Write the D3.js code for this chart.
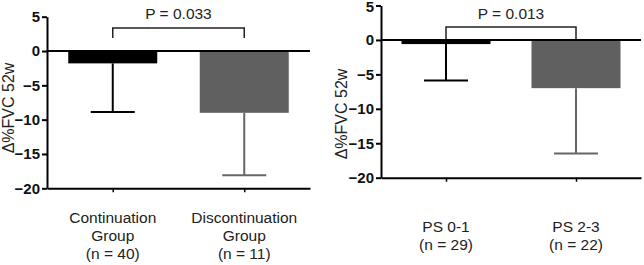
<!DOCTYPE html>
<html>
<head>
<meta charset="utf-8">
<script src="https://cdn.jsdelivr.net/npm/d3@7"></script>
<style>
  body { margin: 0; background: #fff; }
  svg { display: block; font-family: Arial, "Liberation Sans", Helvetica, sans-serif; }
  .tick text { font-weight: bold; font-size: 15px; fill: #111; }
</style>
</head>
<body>
<div id="chart"></div>
<script>
// values
const yTicks = [5, 0, -5, -10, -15, -20];
const yLabel = "\u0394%FVC 52w";

const groupCats = ["Continuation Group", "Discontinuation Group"];
const groupLabels = [["Continuation", "Group", "(n = 40)"], ["Discontinuation", "Group", "(n = 11)"]];
const groupMeans = [-1.8, -9.0];
const groupSD = [7.1, 9.1];
const groupP = "P = 0.033";

const psCats = ["PS 0-1", "PS 2-3"];
const psLabels = [["PS 0-1", "(n = 29)"], ["PS 2-3", "(n = 22)"]];
const psMeans = [-0.6, -7.0];
const psSD = [5.3, 9.5];
const psP = "P = 0.013";

const barColors = ["#000000", "#606060"];
const errColors = ["#000000", "#666666"];

const svg = d3.select("#chart").append("svg")
  .attr("width", 644)
  .attr("height", 265);

// draws one panel of the figure
function drawPanel(opts) {
  const g = svg.append("g");

  const x = d3.scalePoint()
    .domain(opts.cats)
    .range([opts.left, opts.right])
    .padding(0.5);

  const y = d3.scaleLinear()
    .domain([-20, 5])
    .range([opts.bottom, opts.top]);

  const barW = 89, capW = 44;

  // bars
  g.selectAll("rect.bar")
    .data(opts.means)
    .enter()
    .append("rect")
    .attr("class", "bar")
    .attr("x", (d, i) => x(opts.cats[i]) - barW / 2)
    .attr("width", barW)
    .attr("y", y(0))
    .attr("height", d => y(d) - y(0))
    .attr("fill", (d, i) => barColors[i]);

  // error bars (lower only)
  opts.means.forEach((m, i) => {
    const cx = x(opts.cats[i]);
    const lo = m - opts.sd[i];
    g.append("line")
      .attr("x1", cx).attr("x2", cx)
      .attr("y1", y(m)).attr("y2", y(lo))
      .attr("stroke", errColors[i]).attr("stroke-width", 2);
    g.append("line")
      .attr("x1", cx - capW / 2).attr("x2", cx + capW / 2)
      .attr("y1", y(lo)).attr("y2", y(lo))
      .attr("stroke", errColors[i]).attr("stroke-width", 2);
  });

  // zero line
  g.append("line")
    .attr("x1", opts.left).attr("x2", opts.right)
    .attr("y1", y(0)).attr("y2", y(0))
    .attr("stroke", "#000").attr("stroke-width", 2);

  // y axis
  const yAxis = g.append("g")
    .attr("transform", "translate(" + opts.left + ",0)")
    .call(d3.axisLeft(y).tickValues(yTicks).tickSize(5).tickPadding(2).tickSizeOuter(0));
  yAxis.select(".domain").attr("stroke", "#000").attr("stroke-width", 2);
  yAxis.selectAll(".tick line").attr("stroke", "#000").attr("stroke-width", 2);
  yAxis.selectAll(".tick text").attr("font-family", null).attr("font-size", null)
    .filter(d => y(d) < 10)
    .attr("dy", "0.4em");   // keep the top label inside the picture

  // x axis
  const xAxis = g.append("g")
    .attr("transform", "translate(0," + y(-20) + ")")
    .call(d3.axisBottom(x).tickSize(4).tickSizeOuter(0).tickFormat(""));
  xAxis.select(".domain").attr("stroke", "#000").attr("stroke-width", 2);
  xAxis.selectAll(".tick line").attr("stroke", "#000").attr("stroke-width", 1.5);

  // category labels
  opts.labels.forEach((lines, i) => {
    const t = g.append("text")
      .attr("text-anchor", "middle")
      .attr("font-size", "15.5px")
      .attr("fill", "#222");
    lines.forEach((ln, j) => {
      t.append("tspan")
        .attr("x", x(opts.cats[i]))
        .attr("y", opts.labelY + j * 18)
        .text(ln);
    });
  });

  // y label
  g.append("text")
    .attr("transform", "translate(" + opts.yLabelX + "," + opts.yLabelY + ") rotate(-90)")
    .attr("text-anchor", "middle")
    .attr("font-size", "16px")
    .attr("fill", "#222")
    .text(yLabel);

  // significance bracket
  const x1 = x(opts.cats[0]), x2 = x(opts.cats[1]);
  const bTop = y(0) - opts.bracketUp, bEnd = y(0) - opts.bracketGap;
  g.append("path")
    .attr("d", "M" + x1 + "," + bEnd + "V" + bTop + "H" + x2 + "V" + bEnd)
    .attr("fill", "none")
    .attr("stroke", "#222")
    .attr("stroke-width", 1.5);
  g.append("text")
    .attr("x", (x1 + x2) / 2)
    .attr("y", 18.5)
    .attr("text-anchor", "middle")
    .attr("font-size", "15.5px")
    .attr("fill", "#222")
    .text(opts.p);
}

drawPanel({
  cats: groupCats, labels: groupLabels, means: groupMeans, sd: groupSD, p: groupP,
  left: 47, right: 310, top: 16.7, bottom: 188.3,
  labelY: 223, yLabelX: 14, yLabelY: 108,
  bracketUp: 23, bracketGap: 13
});

drawPanel({
  cats: psCats, labels: psLabels, means: psMeans, sd: psSD, p: psP,
  left: 381, right: 641, top: 5.5, bottom: 177.7,
  labelY: 232, yLabelX: 347, yLabelY: 114,
  bracketUp: 13, bracketGap: 1
});
</script>
</body>
</html>
